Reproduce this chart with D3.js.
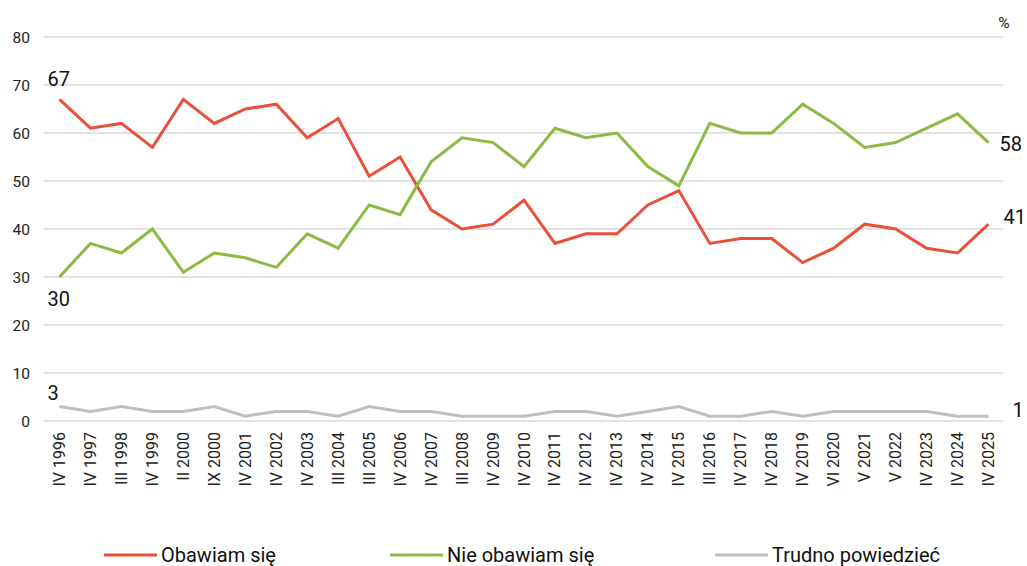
<!DOCTYPE html>
<html>
<head>
<meta charset="utf-8">
<script src="https://cdn.jsdelivr.net/npm/d3@7"></script>
<style>
  body { margin: 0; background: #fff; }
  text { font-family: Roboto, "Noto Sans", sans-serif; }
</style>
</head>
<body>
<div id="chart"></div>
<script>
// data
var waves = ['IV 1996', 'IV 1997', 'III 1998', 'IV 1999', 'II 2000', 'IX 2000', 'IV 2001', 'IV 2002',
  'IV 2003', 'III 2004', 'III 2005', 'IV 2006', 'IV 2007', 'III 2008', 'IV 2009', 'IV 2010',
  'IV 2011', 'IV 2012', 'IV 2013', 'IV 2014', 'IV 2015', 'III 2016', 'IV 2017', 'IV 2018',
  'IV 2019', 'VI 2020', 'V 2021', 'V 2022', 'IV 2023', 'IV 2024', 'IV 2025'];
var obawiam = [67, 61, 62, 57, 67, 62, 65, 66, 59, 63, 51, 55, 44, 40, 41, 46,
  37, 39, 39, 45, 48, 37, 38, 38, 33, 36, 41, 40, 36, 35, 41];
var nieObawiam = [30, 37, 35, 40, 31, 35, 34, 32, 39, 36, 45, 43, 54, 59, 58, 53,
  61, 59, 60, 53, 49, 62, 60, 60, 66, 62, 57, 58, 61, 64, 58];
var trudno = [3, 2, 3, 2, 2, 3, 1, 2, 2, 1, 3, 2, 2, 1, 1, 1,
  2, 2, 1, 2, 3, 1, 1, 2, 1, 2, 2, 2, 2, 1, 1];
var seriesNames = ['Obawiam się', 'Nie obawiam się', 'Trudno powiedzieć'];
var yTicks = [0, 10, 20, 30, 40, 50, 60, 70, 80];

var colors = ['#e8503a', '#8bbb45', '#bfbfbf'];
var series = [obawiam, nieObawiam, trudno];

// setup SVG
var width = 1027, height = 566;
var svg = d3.select('#chart').append('svg')
    .attr('width', width).attr('height', height);

var x = d3.scaleBand().domain(waves).range([44, 1004]);
var y = d3.scaleLinear().domain([0, 80]).range([421, 37]);
var cx = function(i) { return x(waves[i]) + x.bandwidth() / 2; };

// gridlines
svg.append('g').selectAll('line')
    .data(yTicks).enter().append('line')
    .attr('x1', 44).attr('x2', 1003)
    .attr('y1', function(d) { return y(d); })
    .attr('y2', function(d) { return y(d); })
    .attr('stroke', '#d9d9d9').attr('stroke-width', 1.5);

// y axis labels
svg.append('g').selectAll('text')
    .data(yTicks).enter().append('text')
    .attr('x', 30).attr('y', function(d) { return y(d) + 5.5; })
    .attr('text-anchor', 'end')
    .attr('font-size', '15.5px').attr('fill', '#222')
    .text(function(d) { return d; });

svg.append('text')
    .attr('x', 1004).attr('y', 28)
    .attr('text-anchor', 'middle')
    .attr('font-size', '15.5px').attr('fill', '#222')
    .text('%');

// x axis labels, rotated
svg.append('g').selectAll('text')
    .data(waves).enter().append('text')
    .attr('transform', function(d, i) {
        return 'translate(' + (cx(i) + 5.5) + ',432) rotate(-90)';
    })
    .attr('text-anchor', 'end')
    .attr('font-size', '16px').attr('fill', '#222')
    .text(function(d) { return d; });

// lines
var line = d3.line()
    .x(function(d, i) { return cx(i); })
    .y(function(d) { return y(d); });

svg.append('g').selectAll('path')
    .data(series).enter().append('path')
    .attr('d', function(d) { return line(d); })
    .attr('fill', 'none')
    .attr('stroke', function(d, i) { return colors[i]; })
    .attr('stroke-width', 3)
    .attr('stroke-linejoin', 'miter');

// end labels
var last = waves.length - 1;
var startLabels = [
    { v: obawiam[0], dy: -13 },
    { v: nieObawiam[0], dy: 29 },
    { v: trudno[0], dy: -7 }
];
svg.append('g').selectAll('text')
    .data(startLabels).enter().append('text')
    .attr('x', cx(0) - 12)
    .attr('y', function(d) { return y(d.v) + d.dy; })
    .attr('font-size', '20px').attr('fill', '#111')
    .text(function(d) { return d.v; });

var endLabels = [
    { v: nieObawiam[last], dx: 11, dy: 8 },
    { v: obawiam[last], dx: 15, dy: 0 },
    { v: trudno[last], dx: 24, dy: 1 }
];
svg.append('g').selectAll('text')
    .data(endLabels).enter().append('text')
    .attr('x', function(d) { return cx(last) + d.dx; })
    .attr('y', function(d) { return y(d.v) + d.dy; })
    .attr('font-size', '20px').attr('fill', '#111')
    .text(function(d) { return d.v; });

// legend
var legendX = [104, 390, 715];
var legend = svg.append('g').selectAll('g')
    .data(seriesNames).enter().append('g')
    .attr('transform', function(d, i) { return 'translate(' + legendX[i] + ',555)'; });
legend.append('line')
    .attr('x1', 0).attr('x2', 53).attr('y1', 0).attr('y2', 0)
    .attr('stroke', function(d, i) { return colors[i]; })
    .attr('stroke-width', 3);
legend.append('text')
    .attr('x', 57).attr('y', 6.5)
    .attr('font-size', '20px').attr('fill', '#111')
    .text(function(d) { return d; });
</script>
</body>
</html>
